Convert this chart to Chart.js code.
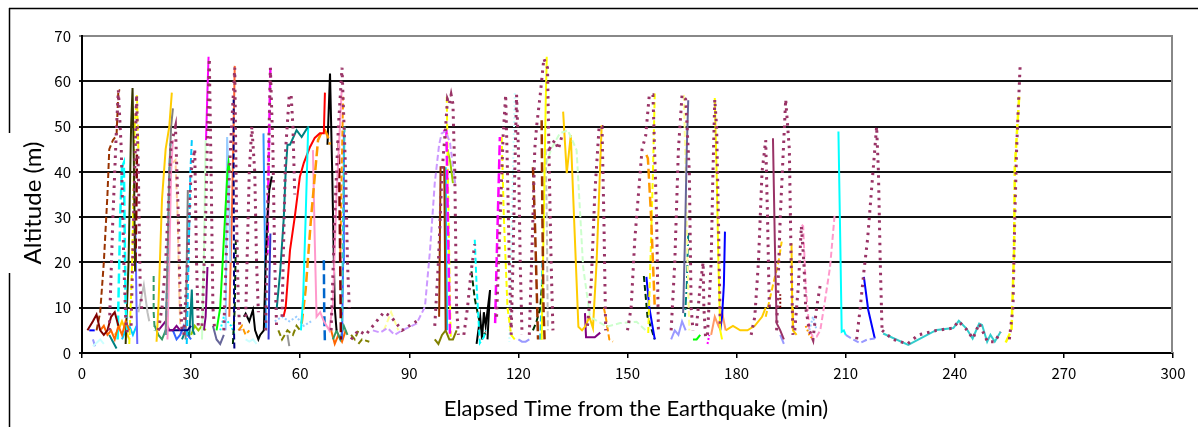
<!DOCTYPE html>
<html>
<head>
<meta charset="utf-8">
<script src="https://cdn.jsdelivr.net/npm/chart.js@4"></script>
<style>
  html, body { margin: 0; padding: 0; background: #fff; }
  #wrap { width: 1198px; height: 427px; }
</style>
</head>
<body>
<div id="wrap"><canvas id="chart" width="1198" height="427"></canvas></div>
<script>
// axis ticks
const xTicks = [0, 30, 60, 90, 120, 150, 180, 210, 240, 270, 300];
const yTicks = [0, 10, 20, 30, 40, 50, 60, 70];

// maroon dotted tracks [minutes, metres]
const dottedTracks = [
  [[7.5,5],[8.5,30],[9.5,50],[10,58],[10.8,45],[11.5,20],[12,8],[12.5,4]],
  [[13.5,6],[14.2,30],[15,57],[15.5,40],[16,15],[16.5,9]],
  [[21,5],[22,10],[23,20],[24.5,46],[25.7,50],[26.5,30],[27,12],[27.5,5]],
  [[28,4],[29,20],[30,40],[31,45],[31.5,20],[32,5]],
  [[33,6],[34,30],[35,65],[35.5,40],[36,10],[36.5,5]],
  [[39,5],[40,30],[41,48],[42,63],[42.5,30],[43,10],[43.5,5]],
  [[45,8],[46,40],[46.7,50],[47.5,40],[48,20],[48.5,9]],
  [[50.5,5],[51.2,40],[51.8,63],[52.5,45],[53,20],[53.5,6]],
  [[55,8],[56,45],[57,57],[57.5,57],[58,50],[58.5,35]],
  [[68.5,5],[69.5,30],[70.5,50],[71.5,63],[72.5,40],[73,20],[73.5,10]],
  [[74,3],[76,5],[78,4],[80,6],[83,9],[85,8],[88,5],[90,6],[92,7]],
  [[97,6],[98,20],[99,40],[100,50],[100.5,56],[101,55],[101.5,57],[102,55],[102.5,40],[103,10],[103.5,4]],
  [[105,4],[106,10],[107,18],[108,24]],
  [[114,8],[115,30],[115.8,48],[116.5,57],[117,40],[117.5,20],[118,5]],
  [[118,4],[118.5,20],[119,40],[119.5,57],[120,45],[120.5,20],[121,4]],
  [[123,4],[124,30],[124.5,45],[125,50],[126,57],[127,65],[128,63],[128.5,40],[129,20],[129.5,5]],
  [[128.5,45],[130,47],[131,45],[132,48]],
  [[139,6],[140,15],[141,35],[142.2,50],[143,50],[143.5,30],[144,5]],
  [[150,5],[151,10],[152,25],[153,35],[154,45],[155,48],[156,57],[157,57],[158,30],[158.5,5]],
  [[162,5],[163,20],[164,45],[165,57],[166,56],[167,40],[167.5,10],[168,5]],
  [[169,6],[170,15],[170.8,20],[171,10],[171.5,3]],
  [[172,4],[173,20],[173.5,40],[174,56],[174.5,50],[175,30],[175.5,6]],
  [[184,4],[185,8],[186,20],[187,40],[188,47],[188.5,30],[189,10]],
  [[191,5],[192,30],[193.5,56],[194.5,45],[195,20],[195.5,4]],
  [[196,5],[197,15],[197.8,28],[198.5,20],[199,10],[200,5],[201,3],[202,10],[203,15]],
  [[213,3],[214,10],[215,18],[216,25],[217,35],[218.5,50],[219,40],[219.5,20],[220,5]],
  [[220,5],[223,3],[227,2],[230,4],[235,5],[239.6,5.5],[241,7],[243,5.4],[245,3.2],[246.7,6.5],[249,2.5],[251,2.5],[252.6,4.7]],
  [[255,3],[256,10],[256.5,30],[257,45],[257.5,55],[258,64]]
];

// coloured tracks, 0-75 min
const earlyTracks = [
  [[1.5,5],[3,7],[4,8.5],[5,5],[6,4],[7,5],[8,8],[9,9],[10,6]],
  [[4,5],[5,9],[6,20],[7,35],[7.5,45],[8.5,47],[9.5,48],[10,58],[10.5,58]],
  [[5,5],[6,6],[7,4],[8,5],[9,3],[10,6],[11,4],[12,7],[13,5]],
  [[2,5],[3.5,5]],
  [[9.8,3],[10.5,30],[11,41],[11.5,42],[12,10],[12.5,4]],
  [[12,2],[12.8,20],[13.5,50],[13.9,58.5],[14.3,40],[14.6,18]],
  [[13,2],[13.8,20],[14.5,50],[15.1,57],[15.5,45]],
  [[14.7,20],[15,35],[15.1,45]],
  [[14.7,27],[15,10],[15.2,2]],
  [[11,3],[12,5],[13,6],[14,4],[15,6]],
  [[7.5,4],[8.5,2.5],[9.5,1]],
  [[3,1.5],[5,3],[6,2]],
  [[3,3],[3.6,1.5]],
  [[15.5,9],[16.5,13],[17,15],[17.5,12],[18,9],[18.5,7]],
  [[19.7,17],[19.7,9],[20,5]],
  [[20.5,2.5],[21,10],[22,34],[23,45],[24,50],[24.7,57.5]],
  [[23,4],[23.5,20],[24,40],[24.5,50],[25,54]],
  [[23,4],[23.5,20],[24,40],[24.3,46.3]],
  [[23.5,3],[24,20],[24.5,40],[25,47]],
  [[25,42],[25.7,42.6],[26.3,30],[26.7,15],[27,6]],
  [[21,5],[22,6],[23,7],[24,5],[25,5],[26,6],[27,5]],
  [[23,5],[25,5],[27,5],[29,5],[30,6]],
  [[28.8,2],[29.3,20],[29.8,40],[30.2,47]],
  [[28.5,3],[28.8,20],[29.1,36]],
  [[27.5,3],[28.5,5],[29.5,4],[30.2,14],[30.5,5],[31,4]],
  [[33,3],[33.5,20],[34,47]],
  [[34.1,47],[34.5,58],[34.8,65.4]],
  [[33.5,5],[34,8],[34.5,19]],
  [[37,5],[38,10],[39,25],[40,40],[40.3,42],[40.6,40]],
  [[39.5,5],[39.9,47.7],[40.3,40],[40.8,20]],
  [[41.7,56],[41.7,40],[41.8,20],[41.8,5],[41.9,1]],
  [[40.5,8],[41.2,30],[41.7,50],[42,63.4]],
  [[41.5,2],[42,10],[42.3,25]],
  [[38,5],[39,8],[40,7],[41,6],[42,4]],
  [[44.5,8],[45,8.7],[46,7],[47,9.5],[47.6,5],[48.5,3],[49,4],[50,5],[50.5,20],[51,30],[51.5,36],[52.2,39]],
  [[49.9,48.5],[50.2,30],[50.6,5]],
  [[51.8,26.4],[51.5,15],[51.3,3]],
  [[51.8,63],[51.5,50],[51.2,35],[51,22]],
  [[53.5,9.5],[54.5,18],[55.5,30],[56,40],[56.5,46],[57.2,46],[59,49.2],[60.4,47.7],[62.2,50]],
  [[60.2,5],[60.8,12],[61.5,30],[62.2,50]],
  [[55.4,8],[56,10],[57.2,22.7],[58.5,30],[59.9,38.9],[61,42],[62.7,45.5],[64,47.5],[65.4,48.5],[66.5,48.5],[66.8,57.5]],
  [[60.4,6.5],[61.5,14],[63,30],[64.9,47],[66,49],[66.8,49.2],[67.5,48],[68.2,46]],
  [[63.5,44.8],[64,25],[64.5,8],[65.5,9],[66.5,7],[68,5],[69,11],[70,35],[71.4,58]],
  [[66.5,20.5],[66.6,10],[66.8,2]],
  [[67.5,46],[68.2,61.7],[68.8,40],[69.5,10],[70,5]],
  [[70.6,47],[70.8,35],[71,20],[71.2,3]],
  [[71,20],[71.4,40],[71.8,56.6]],
  [[71.5,5],[71.8,30],[72.2,50]],
  [[71.5,3],[71.8,20],[72,49]],
  [[54,5],[55,3],[56.5,5],[58,4],[59,6],[60,5]],
  [[53,7],[55,8],[57,7],[59,8],[61,6],[63,7]],
  [[56.5,4],[57,1.5]],
  [[69,3],[70,5],[71,3],[72,6],[73,4]],
  [[68.5,5],[69.5,2],[70.5,4],[71.5,2.5],[72.5,5]],
  [[74,4],[75,3],[76,5]],
  [[9,4],[10,5],[11,7],[12,5],[13,3]],
  [[20,6],[21,4],[22,3],[23,5]],
  [[25,5],[26,3],[27,4],[28,6],[29,4],[30,3]],
  [[30,4],[31,6],[32,5],[33,6],[34,5]],
  [[43,5],[44,6],[45,4],[46,5]],
  [[45,3],[46,2.5],[47,3],[48,2]],
  [[36,6],[37,3],[38,2],[39,4]]
];
const earlyLooks = [
  ['#800000','s'], ['#993300','d'], ['#FF6600','s'], ['#0000FF','d'], ['#00FFFF','l'],
  ['#333300','s'], ['#FFFF00','d'], ['#800000','l'], ['#6666FF','s'], ['#00CCFF','s'],
  ['#008080','s'], ['#CCFFFF','s'], ['#9999FF','s'], ['#C0C0C0','s'], ['#339966','d'],
  ['#FFCC00','s'], ['#808080','s'], ['#00CCFF','d'], ['#FF99CC','s'], ['#FFCC99','d'],
  ['#800080','s'], ['#000080','s'], ['#00CCFF','d'], ['#808080','s'], ['#008080','s'],
  ['#CCFFCC','s'], ['#FF00FF','s'], ['#800080','s'], ['#00FF00','s'], ['#99CCFF','s'],
  ['#000080','d'], ['#FF6633','s'], ['#003300','d'], ['#00FFFF','o'], ['#000000','s'],
  ['#3399FF','s'], ['#3333CC','s'], ['#FF00FF','l'], ['#008080','s'], ['#00FFFF','s'],
  ['#FF0000','s'], ['#FF9900','l'], ['#FF99CC','s'], ['#0066CC','l'], ['#000000','s'],
  ['#800000','l'], ['#FF9900','d'], ['#33CCCC','d'], ['#3366FF','s'], ['#808000','d'],
  ['#99CCFF','o'], ['#969696','s'], ['#339966','s'], ['#FF6600','s'], ['#808000','d'],
  ['#FFCC00','s'], ['#339966','s'], ['#3366FF','s'], ['#99CC00','s'], ['#FF9900','d'],
  ['#CCFFFF','s'], ['#666699','s']
];

// coloured tracks, 75-260 min
const lateTracks = [
  [[80,5],[82,4.5],[84,5.5],[86,4],[88,5],[90.2,5.8],[92,6.5],[94.3,10.2],[95.7,22.7],[97,37.5],[98.2,46],[98.9,48.5],[100,49],[101.2,46.4],[102.6,37.5]],
  [[83,5],[84,7],[85,9],[86,7],[87,5]],
  [[76,2],[77,3],[79,2.5]],
  [[98.2,8],[98.6,41],[99.6,41],[100,5]],
  [[99.3,49],[100.2,49],[100.6,30],[101.2,3.5]],
  [[100.3,56.6],[100.6,40],[101,20],[101.4,3]],
  [[100.5,45],[101.3,42],[102,37.5]],
  [[100,41],[100.2,20],[100.4,5]],
  [[97,3],[98,2],[99,4],[100,5],[101,3],[102,3],[103,5]],
  [[108,25],[108.5,15],[109.4,2.2],[110.5,3.5],[111,5]],
  [[108.5,2],[109,5],[109.5,8],[110,3],[110.5,9],[111,6],[112.2,13.9],[111.5,3]],
  [[107.1,18],[108,12],[109,8],[110,5],[111,4]],
  [[113.6,6.6],[114,20],[114.5,35],[114.9,47.7]],
  [[115.4,47.7],[116,30],[117,10],[118,4],[119,3]],
  [[119,57.4],[118.5,40],[118,20],[117.5,2.5]],
  [[120,3],[121,2.5],[122,2.5],[123,3]],
  [[124,41],[124.5,30],[125,15],[125.4,3]],
  [[126.4,51.4],[126.6,30],[126.9,10],[127.2,3]],
  [[126.4,2.9],[127,30],[127.5,55],[127.8,65.4]],
  [[127.5,45],[127.8,30],[128.1,5]],
  [[124,5],[125,7],[126,10],[126.5,15]],
  [[126,3],[126.3,10],[126.6,20]],
  [[126.8,39.7],[129,45],[131.4,48.5],[133.6,49.2],[136,44.8],[137.8,19],[139.7,8],[144.3,5.8],[148,6.6],[152.5,6.9],[155,5]],
  [[132.3,53.3],[133.3,39.7],[134.4,48.1],[136.5,5.8],[137.5,5],[138.5,6],[139.5,8],[140.5,5.5],[141.5,20],[142.9,50.3]],
  [[138.3,8.8],[138.6,3.5],[141,3.5],[142.5,4.5]],
  [[143.5,10],[144,8],[145,3],[146,2.5]],
  [[155.2,43.7],[155.6,43],[156.5,30],[157,20],[157.5,10]],
  [[155.7,4.4],[156.3,20],[157,40],[157.5,57.3]],
  [[155.2,16.8],[156,10],[157.5,3]],
  [[154.5,17],[155.5,8],[157.5,3]],
  [[165.3,8.8],[165.8,25],[166.3,45],[166.7,55.8]],
  [[165.5,57],[166,40],[166.5,20],[167,5]],
  [[166.7,26.5],[166.3,15],[165.8,8]],
  [[162,3],[163,5],[164,4],[165,7],[166,5]],
  [[168,3],[169,3],[170,4]],
  [[174,56.3],[174.5,40],[175,20],[175.5,5],[176,3]],
  [[176.8,26.8],[176.5,15],[176,8],[175.5,5]],
  [[173,4],[174,8],[175,6],[176,9],[177,5]],
  [[172,2],[172.5,4]],
  [[177,5],[179,6],[181,5],[183,5],[185,6],[187,8],[188,10]],
  [[190,47.4],[190.5,25],[191,6.6],[192,5],[193,3]],
  [[188,8],[190,15],[191.5,20],[192.4,24.6]],
  [[195.1,24.2],[195.3,10],[195.5,5],[196.5,4]],
  [[192,4],[193,2]],
  [[192,10],[192,13]],
  [[197.9,28.3],[198.3,28],[199,15],[200,5],[201,3.6],[202,3.6],[203,5],[204,10],[205.7,19],[207,30.9]],
  [[199,6],[200,4],[201,3]],
  [[200,5],[201,8],[202,5]],
  [[208,48.9],[208.5,25],[208.9,4.7],[209.5,5],[210,4]],
  [[210,4],[212,3],[213.9,2.2],[216,3],[218,3.2]],
  [[215,16.8],[216.2,9.5],[218,3.2]],
  [[220.3,4.3],[227.2,1.8],[235,5.1],[239.6,5.5],[241.1,7.1],[243.2,5.4],[244.9,3.2],[246.7,6.5],[247.5,6.2],[248.9,2.5],[249.8,4],[251,2.5],[252.6,4.7]],
  [[254,2.3],[255.6,5.1],[256.3,22.7],[256.5,41.1],[257.7,56.6]]
];
const lateLooks = [
  ['#CC99FF','d'], ['#FFFF99','d'], ['#808000','d'], ['#993300','s'], ['#FF00FF','l'],
  ['#FFFF00','d'], ['#99CC00','s'], ['#00CCFF','s'], ['#808000','s'], ['#00FFFF','d'],
  ['#000000','s'], ['#003300','d'], ['#FF00FF','l'], ['#FFFF00','d'], ['#CCFFFF','o'],
  ['#9999FF','s'], ['#993300','l'], ['#993300','l'], ['#FFFF00','s'], ['#C0C0C0','d'],
  ['#003300','d'], ['#00CCFF','d'], ['#CCFFCC','d'], ['#FFCC00','s'], ['#800080','s'],
  ['#FF9900','d'], ['#FF9900','l'], ['#FFFF00','d'], ['#0000FF','s'], ['#003300','d'],
  ['#666699','s'], ['#FFFF99','d'], ['#008080','dd'], ['#9999FF','s'], ['#00FF00','s'],
  ['#FFFF00','s'], ['#0000FF','s'], ['#FF9966','s'], ['#FF00FF','o'], ['#FFCC00','s'],
  ['#993366','s'], ['#FFCC00','d'], ['#FFCC00','s'], ['#9999FF','s'], ['#800000','o'],
  ['#FF99CC','d'], ['#FF9900','o'], ['#99CCFF','o'], ['#00FFFF','s'], ['#9999FF','d'],
  ['#0000FF','s'], ['#33CCCC','s'], ['#FFFF00','l']
];

const dashes = { s: [], d: [6, 3], l: [10, 4], o: [2, 2], q: [2.5, 5], dd: [8, 3, 2, 3] };
const widths = { s: 2, d: 2, l: 2.5, o: 2, q: 3, dd: 2 };

function makeSet(track, color, kind) {
  return {
    data: track.map(p => ({ x: p[0], y: p[1] })),
    borderColor: color,
    borderWidth: widths[kind],
    borderDash: dashes[kind],
    borderCapStyle: 'butt',
    pointRadius: 0,
    tension: 0,
    fill: false
  };
}

const datasets = [];
dottedTracks.forEach(t => datasets.push(makeSet(t, '#993366', 'q')));
earlyTracks.forEach((t, i) => datasets.push(makeSet(t, earlyLooks[i][0], earlyLooks[i][1])));
lateTracks.forEach((t, i) => datasets.push(makeSet(t, lateLooks[i][0], lateLooks[i][1])));

const tickFont = { family: "'Noto Sans CJK JP', 'Noto Sans', sans-serif", size: 15 };
const fontFamily = "Lato, 'Noto Sans', sans-serif";

const framePlugin = {
  id: 'frame',
  beforeDraw(chart) {
    const c = chart.ctx;
    c.save();
    c.fillStyle = '#fff';
    c.fillRect(0, 0, chart.width, chart.height);
    c.strokeStyle = '#000';
    c.lineWidth = 1.5;
    c.beginPath();
    c.moveTo(9, 8.5); c.lineTo(chart.width, 8.5);
    c.moveTo(9.5, 8); c.lineTo(9.5, 133);
    c.moveTo(9.5, 273); c.lineTo(9.5, chart.height);
    c.stroke();
    c.restore();
  },
  beforeDatasetsDraw(chart) {
    const a = chart.chartArea, c = chart.ctx;
    c.save();
    c.strokeStyle = '#888';
    c.lineWidth = 2;
    c.beginPath();
    c.moveTo(a.right - 1, a.top); c.lineTo(a.right - 1, a.bottom);
    c.stroke();
    c.restore();
  },
  afterDraw(chart) {
    const c = chart.ctx;
    c.save();
    c.fillStyle = '#000';
    c.textAlign = 'center';
    c.textBaseline = 'middle';
    c.font = '22px ' + fontFamily;
    c.fillText('Elapsed Time from the Earthquake (min)', 636, 409);
    c.font = '24px ' + fontFamily;
    c.translate(33, 203);
    c.rotate(-Math.PI / 2);
    c.fillText('Altitude (m)', 0, 0);
    c.restore();
  }
};

new Chart(document.getElementById('chart'), {
  type: 'line',
  data: { datasets },
  options: {
    responsive: false,
    animation: false,
    events: [],
    layout: { padding: { left: 0, right: 25, top: 36, bottom: 0 } },
    plugins: { legend: { display: false }, tooltip: { enabled: false } },
    scales: {
      x: {
        type: 'linear',
        min: xTicks[0],
        max: xTicks[xTicks.length - 1],
        afterBuildTicks: s => { s.ticks = xTicks.map(v => ({ value: v })); },
        afterFit: s => { s.height = 74; },
        ticks: { color: '#000', font: tickFont, padding: 6, maxRotation: 0 },
        grid: { drawOnChartArea: false, drawTicks: true, tickLength: 5, color: '#000', lineWidth: 1.5 },
        border: { color: '#000', width: 2 }
      },
      y: {
        type: 'linear',
        min: yTicks[0],
        max: yTicks[yTicks.length - 1],
        afterBuildTicks: s => { s.ticks = yTicks.map(v => ({ value: v })); },
        afterFit: s => { s.width = 82; },
        ticks: { color: '#000', font: tickFont, padding: 8 },
        grid: {
          color: ctx => (ctx.tick && ctx.tick.value === 70 ? '#888' : '#111'),
          lineWidth: 2,
          drawTicks: true,
          tickLength: 3
        },
        border: { color: '#000', width: 2 }
      }
    }
  },
  plugins: [framePlugin]
});
</script>
</body>
</html>
